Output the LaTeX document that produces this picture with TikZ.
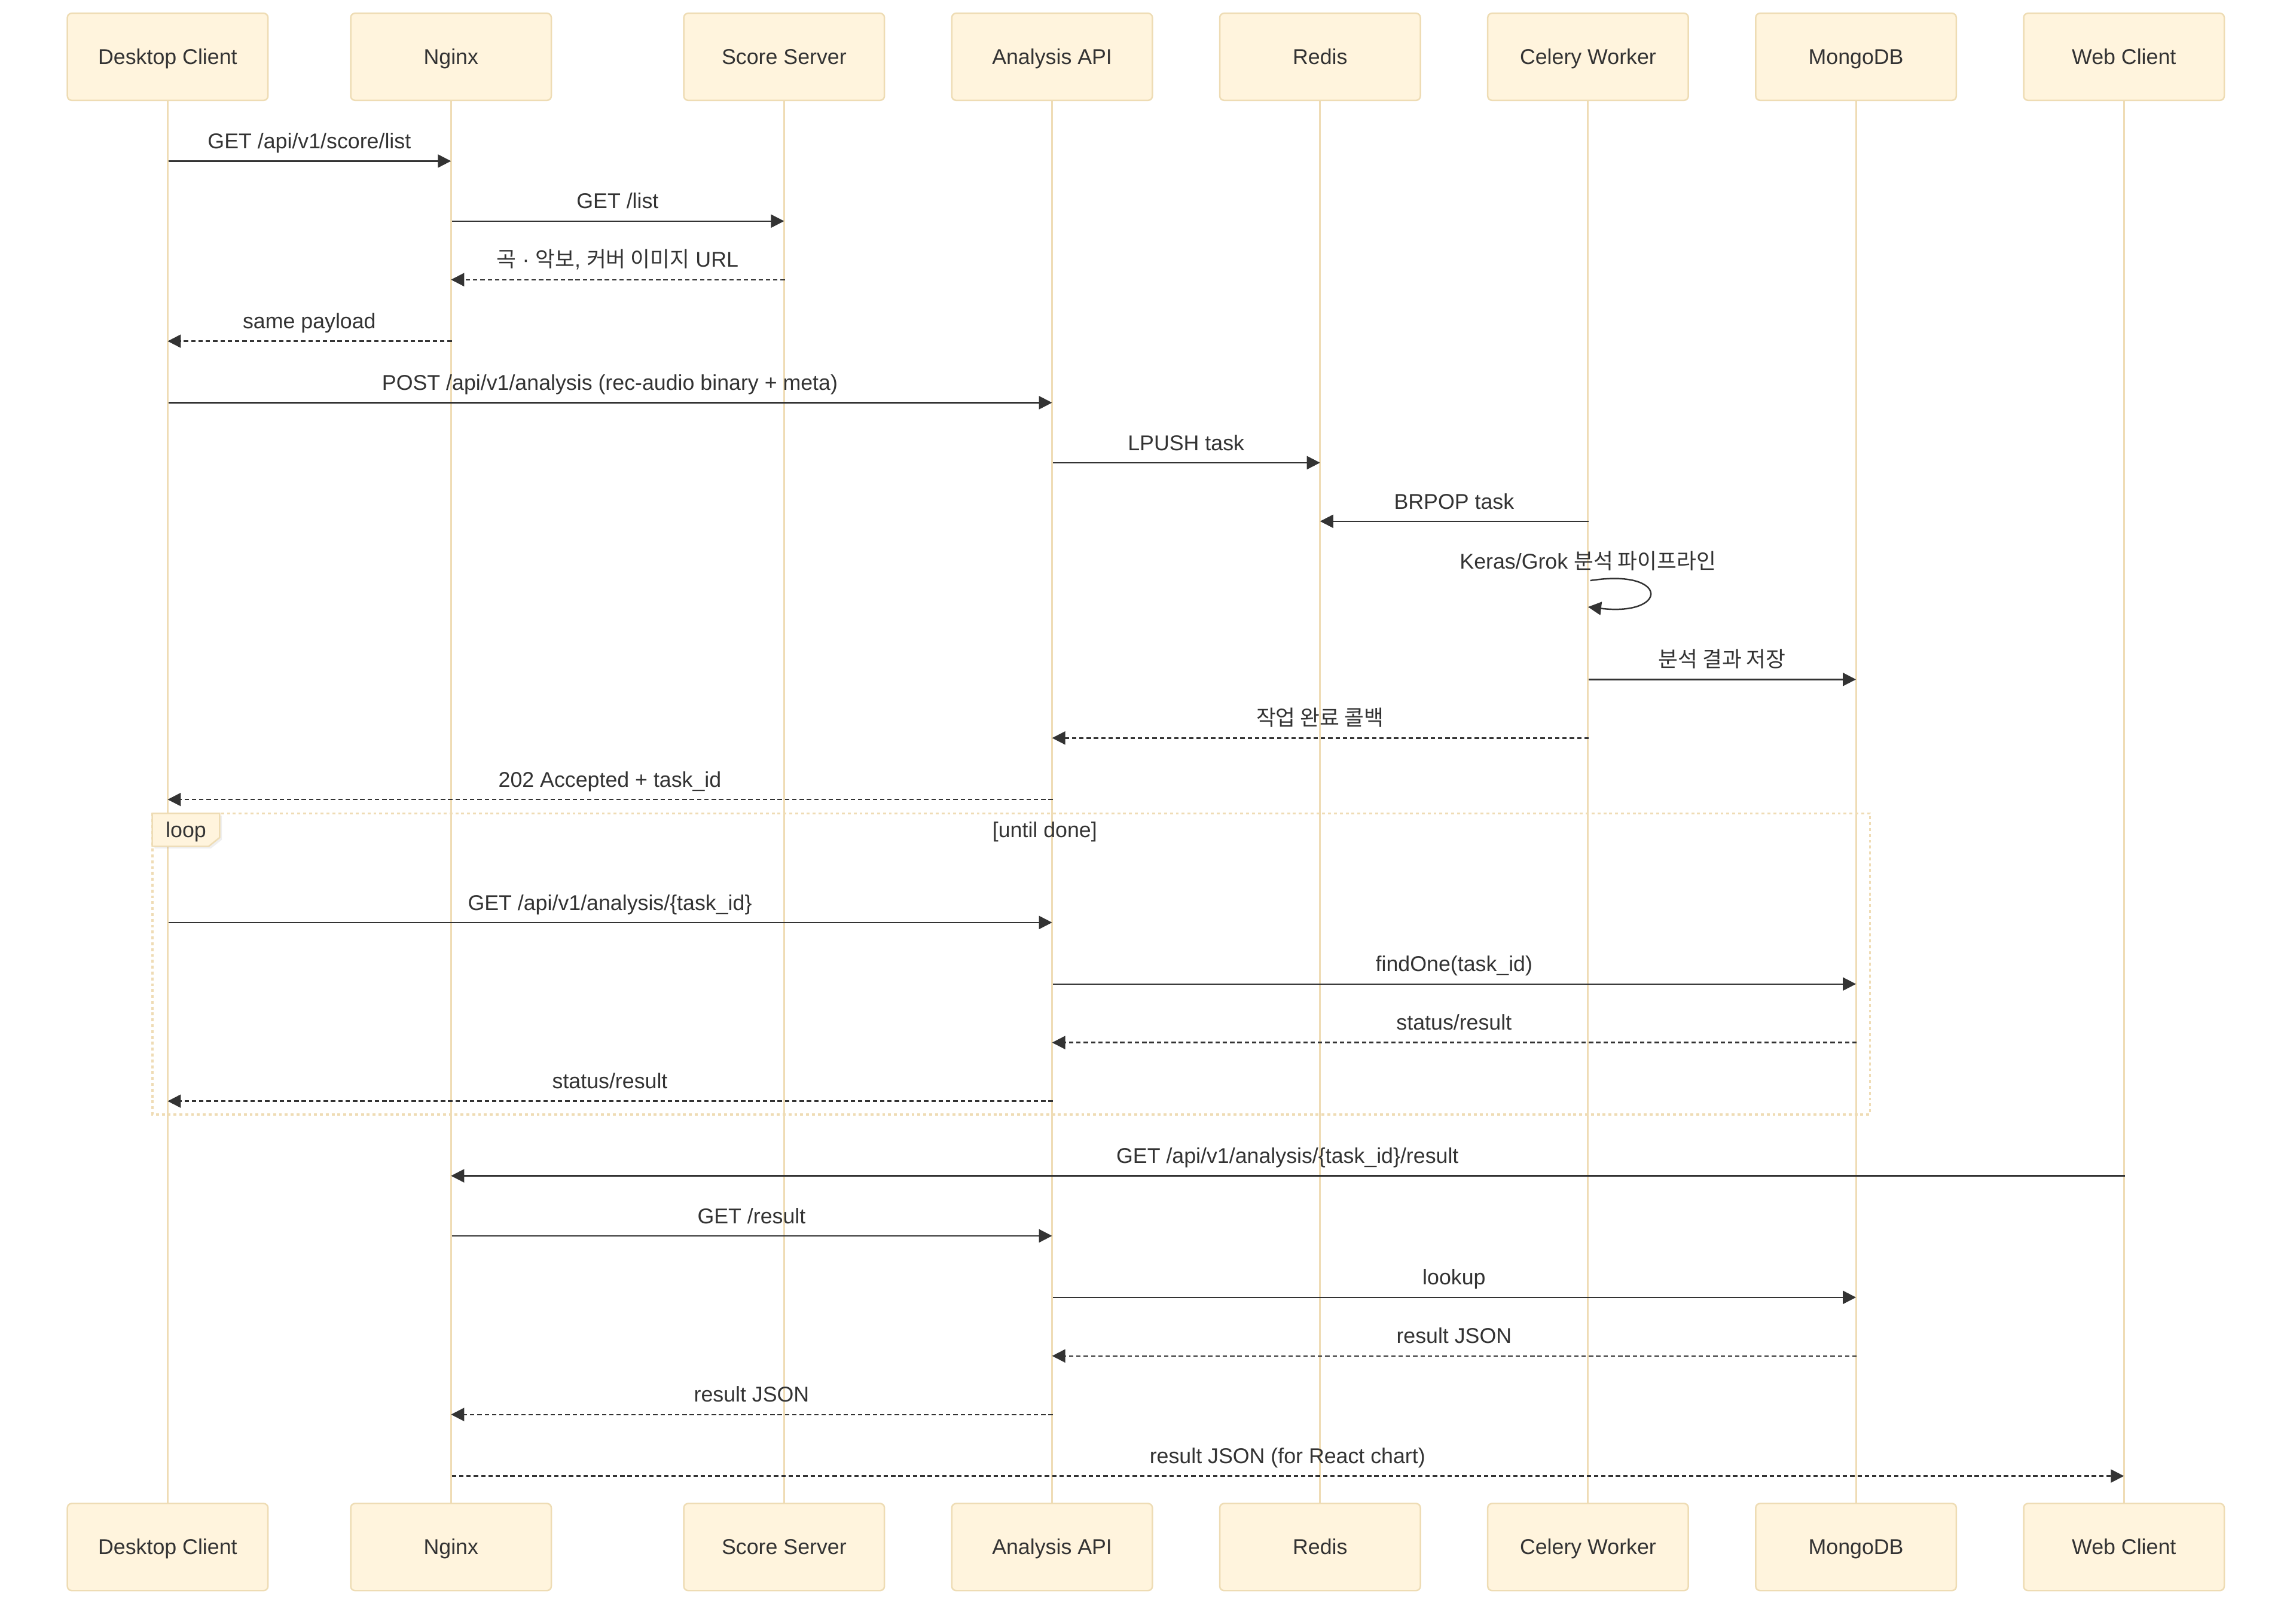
\documentclass[tikz,border=0pt]{standalone}
\usepackage{fontspec}
\setmainfont{Liberation Sans}
\newfontfamily\kr{Noto Sans CJK KR}
\usetikzlibrary{arrows.meta,calc,shadows}
\definecolor{boxfill}{HTML}{FFF4DD}
\definecolor{boxline}{HTML}{EEDCB4}
\definecolor{lifecol}{HTML}{EFDCB5}
\definecolor{ink}{HTML}{333333}
\tikzset{
  actor/.style={draw=boxline, fill=boxfill, line width=1pt, rounded corners=3pt,
    minimum width=137pt, minimum height=59.5pt, text=ink,
    font=\fontsize{14.6}{17}\selectfont, inner sep=0pt, text height=10pt, text depth=0pt},
  lifeline/.style={draw=lifecol, line width=1.2pt},
  msgsolid/.style={draw=ink, line width=1pt, -{Triangle[length=9pt,width=9pt]}},
  msgdash/.style={msgsolid, dash pattern=on 3pt off 2pt},
  lbl/.style={anchor=base, text=ink, font=\fontsize{14.6}{17}\selectfont, inner sep=0pt},
  loopframe/.style={draw=lifecol, line width=1.5pt, dash pattern=on 2pt off 2pt},
  looptab/.style={fill=boxfill, draw=boxline, line width=1pt,
    drop shadow={opacity=0.12, shadow xshift=1.5pt, shadow yshift=-1.5pt}},
}
\newcommand\seqmsg[5]{%
  \draw[#1] ($(#2 |- 0,#4)+(0.5,0)$) -- (#3 |- 0,#4);
  \node[lbl] at ($(#2 |- 0,#4)!0.5!(#3 |- 0,#4)+(0,-8.5)$) {#5};
}
\begin{document}
\begin{tikzpicture}[x=1pt,y=-1pt]
\useasboundingbox[fill=white] (0,0) rectangle (1568,1098.8);

% lifeline anchors
\foreach \n/\x in {1/114.5,2/308,3/535.5,4/718.5,5/901.5,6/1084.5,7/1267.5,8/1450.5}{
  \coordinate (c\n) at (\x,0);
}
\foreach \n in {1,...,8}{
  \draw[lifeline] (c\n |- 0,68) -- (c\n |- 0,1027);
}
\node[actor] (t1) at (114.5,38.8) {Desktop Client};
\node[actor] (t2) at (308,38.8) {Nginx};
\node[actor] (t3) at (535.5,38.8) {Score Server};
\node[actor] (t4) at (718.5,38.8) {Analysis API};
\node[actor] (t5) at (901.5,38.8) {Redis};
\node[actor] (t6) at (1084.5,38.8) {Celery Worker};
\node[actor] (t7) at (1267.5,38.8) {MongoDB};
\node[actor] (t8) at (1450.5,38.8) {Web Client};

\node[actor] (b1) at (114.5,1056.5) {Desktop Client};
\node[actor] (b2) at (308,1056.5) {Nginx};
\node[actor] (b3) at (535.5,1056.5) {Score Server};
\node[actor] (b4) at (718.5,1056.5) {Analysis API};
\node[actor] (b5) at (901.5,1056.5) {Redis};
\node[actor] (b6) at (1084.5,1056.5) {Celery Worker};
\node[actor] (b7) at (1267.5,1056.5) {MongoDB};
\node[actor] (b8) at (1450.5,1056.5) {Web Client};

% loop frame
\draw[loopframe] (104,555.5) rectangle (1277,761);
\filldraw[looptab] (104,555.5) -- (150,555.5) -- (150,572) -- (142.5,578) -- (104,578) -- cycle;
\node[lbl] (looplbl) at (127,572) {loop};
\node[lbl] (loopcond) at (713.5,572) {[until done]};

% messages
\seqmsg{msgsolid}{t1}{t2}{110}{GET /api/v1/score/list}
\seqmsg{msgsolid}{t2}{t3}{151}{GET /list}
\seqmsg{msgdash}{t3}{t2}{191}{{\kr 곡} · {\kr 악보}, {\kr 커버 이미지} URL}
\seqmsg{msgdash}{t2}{t1}{233}{same payload}
\seqmsg{msgsolid}{t1}{t4}{275}{POST /api/v1/analysis (rec-audio binary + meta)}
\seqmsg{msgsolid}{t4}{t5}{316}{LPUSH task}
\seqmsg{msgsolid}{t6}{t5}{356}{BRPOP task}

% self message
\node[lbl] (selflbl) at ($(t6 |- 0,388.5)$) {Keras/Grok {\kr 분석 파이프라인}};
\draw[msgsolid] ($(t6 |- 0,396.5)+(1.5,0)$) .. controls ($(t6 |- 0,388)+(55.5,0)$) and ($(t6 |- 0,421)+(55.5,0)$) .. (t6 |- 0,414.5);

\seqmsg{msgsolid}{t6}{t7}{464}{{\kr 분석 결과 저장}}
\seqmsg{msgdash}{t6}{t4}{504}{{\kr 작업 완료 콜백}}
\seqmsg{msgdash}{t4}{t1}{546}{202 Accepted + task\_id}

\seqmsg{msgsolid}{t1}{t4}{630}{GET /api/v1/analysis/\{task\_id\}}
\seqmsg{msgsolid}{t4}{t7}{672}{findOne(task\_id)}
\seqmsg{msgdash}{t7}{t4}{712}{status/result}
\seqmsg{msgdash}{t4}{t1}{752}{status/result}

\seqmsg{msgsolid}{t8}{t2}{803}{GET /api/v1/analysis/\{task\_id\}/result}
\seqmsg{msgsolid}{t2}{t4}{844}{GET /result}
\seqmsg{msgsolid}{t4}{t7}{886}{lookup}
\seqmsg{msgdash}{t7}{t4}{926}{result JSON}
\seqmsg{msgdash}{t4}{t2}{966}{result JSON}
\seqmsg{msgdash}{t2}{t8}{1008}{result JSON (for React chart)}
\end{tikzpicture}
\end{document}
